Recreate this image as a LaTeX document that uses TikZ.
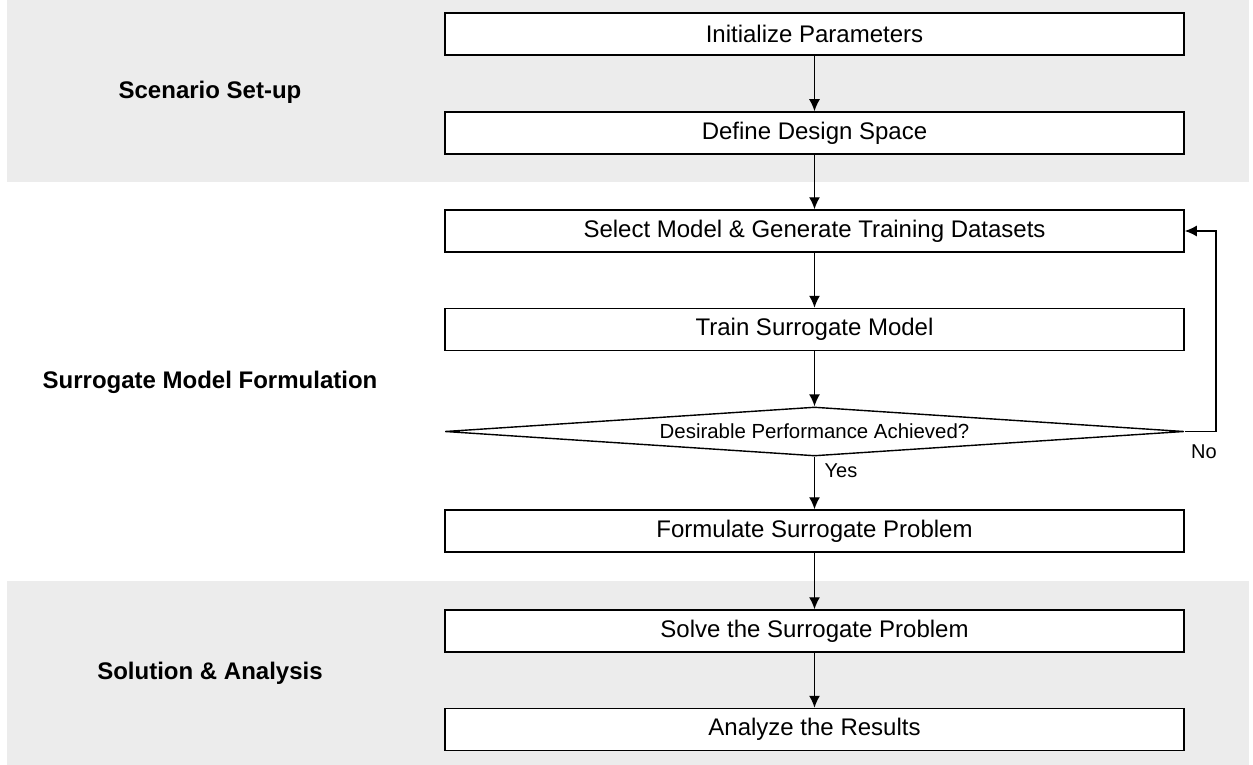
\documentclass[tikz,border=0pt]{standalone}
\usepackage{fontspec}
\setmainfont{Liberation Sans}
\usetikzlibrary{arrows.meta,shapes.geometric}
\definecolor{bandgray}{RGB}{236,236,236}

\begin{document}
\begin{tikzpicture}[x=0.5pt, y=-0.5pt, >={Latex[length=6pt,width=5.5pt]}]

    \useasboundingbox (0,0) rectangle (1253,765);

    \tikzset{boxstyle/.style={draw, line width=0.75pt, fill=white, minimum width=369.5pt, minimum height=21pt, inner sep=0pt, font=\fontsize{12}{14}\selectfont}}
    \tikzset{decstyle/.style={draw, line width=0.7pt, fill=white, shape=diamond, shape aspect=15, minimum width=369.5pt, minimum height=24.5pt, inner sep=0pt, font=\fontsize{10.2}{12}\selectfont}}
    \tikzset{bandlabel/.style={font=\fontsize{12}{14}\selectfont\bfseries}}
    \tikzset{smalllabel/.style={font=\fontsize{10}{12}\selectfont}}

    % Bandas de fondo
    \fill[bandgray] (7,0) rectangle (1249,182);
    \fill[bandgray] (7,581) rectangle (1249,765);

    \node[bandlabel] (l1) at ( 210, 92) {Scenario Set-up};
    \node[bandlabel] (l2) at ( 210, 382) {Surrogate Model Formulation};
    \node[bandlabel] (l3) at ( 210, 673) {Solution \& Analysis};

    \node[boxstyle] (b1) at ( 814.5, 34) {Initialize Parameters};
    \node[boxstyle] (b2) at ( 814.5, 133) {Define Design Space};
    \node[boxstyle] (b3) at ( 814.5, 231) {Select Model \& Generate Training Datasets};
    \node[boxstyle] (b4) at ( 814.5, 329.5) {Train Surrogate Model};
    \node[decstyle] (d1) at ( 814.5, 431.5) {Desirable Performance Achieved?};
    \node[boxstyle] (b5) at ( 814.5, 531) {Formulate Surrogate Problem};
    \node[boxstyle] (b6) at ( 814.5, 631) {Solve the Surrogate Problem};
    \node[boxstyle] (b7) at ( 814.5, 729.5) {Analyze the Results};

    \node[smalllabel] (yes) at ( 841, 471) {Yes};
    \node[smalllabel] (no) at ( 1204, 452) {No};

    \coordinate (c1) at ( 1216, 431.5);

    \begin{scope}[line width=0.7pt]
        \draw[->] (b1) -- (b2);
        \draw[->] (b2) -- (b3);
        \draw[->] (b3) -- (b4);
        \draw[->] (b4) -- (d1);
        \draw[->] (d1) -- (b5);
        \draw[->] (b5) -- (b6);
        \draw[->] (b6) -- (b7);

        \draw[->] (d1.east) -- (c1) |- (b3.east);
    \end{scope}

\end{tikzpicture}
\end{document}
